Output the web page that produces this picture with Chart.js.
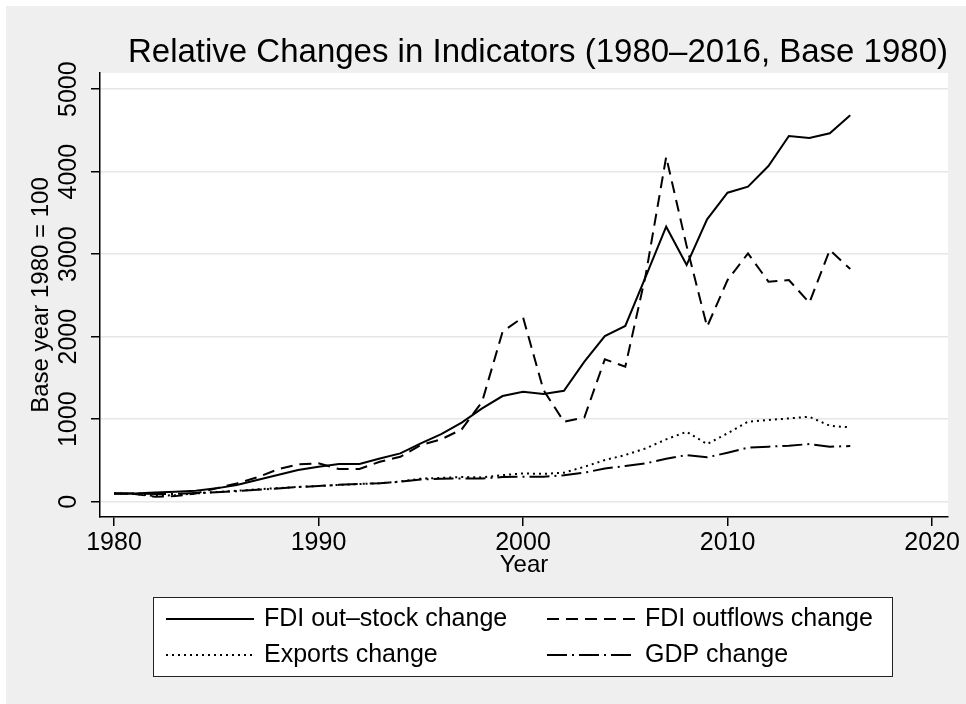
<!DOCTYPE html>
<html>
<head>
<meta charset="utf-8">
<script src="https://cdn.jsdelivr.net/npm/chart.js@4.4.1/dist/chart.umd.min.js"></script>
<style>
  html, body { margin: 0; padding: 0; background: #fff; }
  canvas { display: block; }
</style>
</head>
<body>
<canvas id="myChart" width="966" height="704"></canvas>
<script>
// data (base year 1980 = 100)
const years = [1980, 1981, 1982, 1983, 1984, 1985, 1986, 1987, 1988, 1989,
  1990, 1991, 1992, 1993, 1994, 1995, 1996, 1997, 1998, 1999,
  2000, 2001, 2002, 2003, 2004, 2005, 2006, 2007, 2008, 2009,
  2010, 2011, 2012, 2013, 2014, 2015, 2016]

const outStock = [100, 100, 112, 120, 133, 162, 202, 263, 323, 384,
  424, 457, 457, 525, 586, 708, 820, 958, 1132, 1281,
  1333, 1305, 1345, 1697, 2008, 2130, 2727, 3333, 2869, 3423,
  3745, 3818, 4069, 4433, 4408, 4465, 4683]

const outflows = [100, 95, 60, 68, 100, 162, 222, 295, 392, 453,
  465, 396, 396, 485, 545, 687, 756, 877, 1212, 2061,
  2235, 1354, 970, 1023, 1726, 1636, 2750, 4180, 3100, 2121,
  2687, 3010, 2667, 2687, 2412, 3051, 2820]

const exportsChg = [100, 95, 70, 80, 100, 118, 133, 150, 165, 180,
  190, 205, 215, 225, 245, 280, 290, 300, 295, 323,
  343, 338, 352, 424, 505, 566, 647, 756, 848, 699,
  829, 970, 990, 1010, 1030, 921, 901]

const gdpChg = [100, 100, 95, 95, 105, 115, 128, 145, 160, 178,
  190, 205, 215, 225, 242, 270, 280, 283, 283, 299,
  303, 303, 320, 352, 404, 433, 465, 520, 566, 538,
  594, 655, 667, 679, 699, 667, 675]

const seriesNames = ['FDI out\u2013stock change', 'FDI outflows change', 'Exports change', 'GDP change']
const xTicks = [1980, 1990, 2000, 2010, 2020]
const yTicks = [0, 1000, 2000, 3000, 4000, 5000]

const FONT = "'Liberation Sans', Arial, sans-serif"

function toPoints(vals) {
  return years.map((y, i) => ({ x: y, y: vals[i] }))
}

function lineSet(label, vals, dash) {
  return {
    label: label,
    data: toPoints(vals),
    borderColor: '#000',
    borderWidth: 2,
    borderDash: dash,
    pointRadius: 0,
    fill: false,
    tension: 0
  }
}

// gray panel + white plot region
const backdrop = {
  id: 'backdrop',
  beforeDraw(chart) {
    const ctx = chart.ctx
    const a = chart.chartArea
    ctx.save()
    ctx.fillStyle = '#fff'
    ctx.fillRect(0, 0, chart.width, chart.height)
    ctx.fillStyle = '#efefef'
    ctx.fillRect(6, 6, chart.width - 6, chart.height - 6)
    ctx.fillStyle = '#fff'
    ctx.fillRect(a.left, a.top, a.right - a.left, a.bottom - a.top)
    ctx.restore()
  }
}

// two-column boxed legend like Stata's
const boxLegend = {
  id: 'boxLegend',
  afterDraw(chart) {
    const ctx = chart.ctx
    const sets = chart.data.datasets
    const box = { x: 153, y: 597, w: 739, h: 79 }
    ctx.save()
    ctx.fillStyle = '#fff'
    ctx.fillRect(box.x, box.y, box.w, box.h)
    ctx.strokeStyle = '#222'
    ctx.lineWidth = 1
    ctx.strokeRect(box.x + 0.5, box.y + 0.5, box.w, box.h)
    ctx.font = '25px ' + FONT
    ctx.textBaseline = 'middle'
    ctx.fillStyle = '#000'
    const cols = [166, 547]
    const rows = [619, 655]
    sets.forEach((ds, i) => {
      const cx = cols[i % 2]
      const cy = rows[Math.floor(i / 2)]
      ctx.beginPath()
      ctx.setLineDash(ds.borderDash || [])
      ctx.lineWidth = 2
      ctx.strokeStyle = '#000'
      ctx.moveTo(cx, cy)
      ctx.lineTo(cx + 88, cy)
      ctx.stroke()
      ctx.setLineDash([])
      ctx.fillText(ds.label, cx + 98, cy)
    })
    ctx.restore()
  }
}

const ctx = document.getElementById('myChart').getContext('2d')

const lineChart = new Chart(ctx, {
  type: 'line',
  data: {
    datasets: [
      lineSet(seriesNames[0], outStock, []),
      lineSet(seriesNames[1], outflows, [12, 7]),
      lineSet(seriesNames[2], exportsChg, [2, 4]),
      lineSet(seriesNames[3], gdpChg, [20, 5, 2, 5])
    ]
  },
  options: {
    responsive: false,
    animation: false,
    devicePixelRatio: 1,
    layout: { padding: { left: 0, top: 0, right: 18, bottom: 124 } },
    plugins: {
      legend: { display: false },
      tooltip: { enabled: false },
      title: {
        display: true,
        align: 'end',
        text: 'Relative Changes in Indicators (1980\u20132016, Base 1980)',
        color: '#000',
        font: { family: FONT, size: 33, weight: 'normal', lineHeight: 1 },
        padding: { top: 36.5, bottom: 3.5 }
      }
    },
    scales: {
      x: {
        type: 'linear',
        min: 1979.315,
        max: 2020.78,
        afterBuildTicks: s => { s.ticks = xTicks.map(v => ({ value: v })) },
        afterFit: s => { s.height = 63 },
        grid: { drawOnChartArea: false, drawTicks: true, tickLength: 9, color: '#000', lineWidth: 1.5 },
        border: { display: true, color: '#000', width: 1.5 },
        ticks: { color: '#000', padding: 2, font: { family: FONT, size: 25 }, callback: v => String(v) },
        title: { display: true, text: 'Year', color: '#000', font: { family: FONT, size: 24 }, padding: { top: 0, bottom: 0 } }
      },
      y: {
        min: -185,
        max: 5196,
        afterBuildTicks: s => { s.ticks = yTicks.map(v => ({ value: v })) },
        afterFit: s => { s.width = 100 },
        grid: { color: '#e6e6e6', lineWidth: 1.5, tickColor: '#000', tickLength: 9, drawTicks: true },
        border: { display: true, color: '#000', width: 1.5 },
        ticks: { color: '#000', padding: -6, minRotation: 90, maxRotation: 90, crossAlign: 'center',
          font: { family: FONT, size: 25 }, callback: v => String(v) },
        title: { display: true, text: 'Base year 1980 = 100', color: '#000', font: { family: FONT, size: 24 }, padding: { top: 27, bottom: 0 } }
      }
    }
  },
  plugins: [backdrop, boxLegend]
})
</script>
</body>
</html>
